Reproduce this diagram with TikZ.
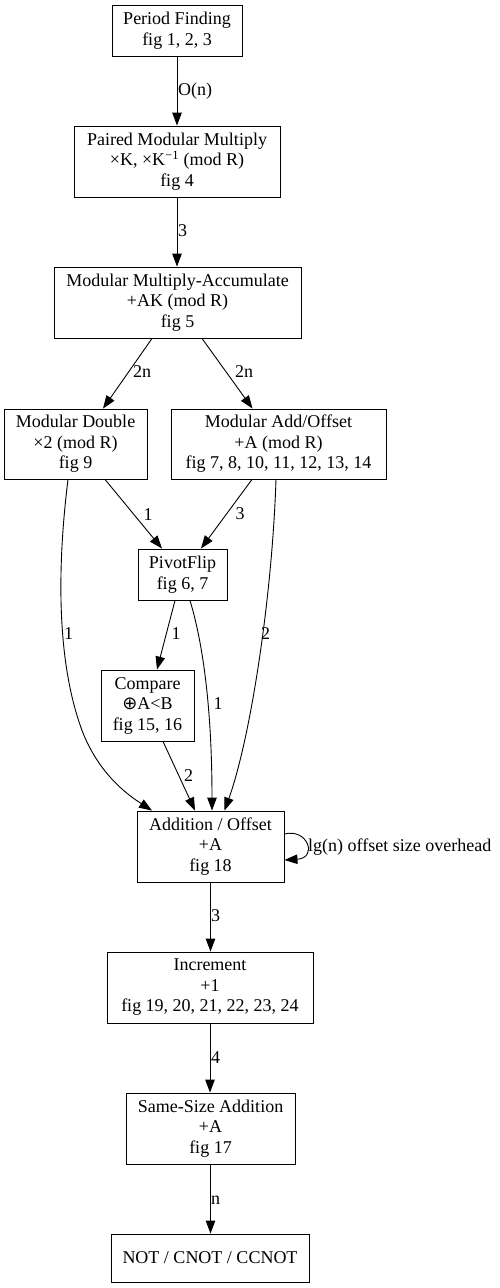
\documentclass[tikz,border=0pt]{standalone}
\usepackage{fontspec}
\setmainfont{Liberation Serif}
\newfontfamily\djv{DejaVu Sans}
\usetikzlibrary{arrows.meta}
\begin{document}
\begin{tikzpicture}[x=1pt,y=-1pt,
  box/.style={draw, line width=0.9pt, inner sep=0pt, align=center, font=\fontsize{18}{20.5}\selectfont},
  arr/.style={line width=0.9pt, -{Triangle[length=13pt,width=9.5pt]}},
  lbl/.style={inner sep=0pt, font=\fontsize{18}{20.5}\selectfont}]
\useasboundingbox (0,0) rectangle (499,1288);

\node[box, minimum width=130pt, minimum height=51pt] (pf) at (177,30.5) {Period Finding\\fig 1, 2, 3};
\node[box, minimum width=206pt, minimum height=71pt] (pmm) at (177,161.5) {Paired Modular Multiply\\×K, ×K\textsuperscript{\char"2212 1} (mod R)\\fig 4};
\node[box, minimum width=247pt, minimum height=71pt] (mma) at (177.5,302.5) {Modular Multiply-Accumulate\\+AK (mod R)\\fig 5};
\node[box, minimum width=143pt, minimum height=70pt] (md) at (75.5,444) {Modular Double\\×2 (mod R)\\fig 9};
\node[box, minimum width=215pt, minimum height=70pt] (mao) at (278.5,444) {Modular Add/Offset\\+A (mod R)\\fig 7, 8, 10, 11, 12, 13, 14};
\node[box, minimum width=89pt, minimum height=51pt] (pv) at (182.5,574.5) {PivotFlip\\fig 6, 7};
\node[box, minimum width=93pt, minimum height=71pt] (cmp) at (147.5,705.5) {Compare\\{\djv ⊕}A<B\\fig 15, 16};
\node[box, minimum width=147pt, minimum height=71pt] (ao) at (210.5,846.5) {Addition / Offset\\+A\\fig 18};
\node[box, minimum width=206pt, minimum height=71pt] (inc) at (210,987.5) {Increment\\+1\\fig 19, 20, 21, 22, 23, 24};
\node[box, minimum width=169pt, minimum height=71pt] (ssa) at (210.5,1128.5) {Same-Size Addition\\+A\\fig 17};
\node[box, minimum width=198pt, minimum height=48pt] (nt) at (210,1258) {NOT / CNOT / CCNOT};

% edges
\draw[arr] (pf.south) -- (pmm.north);
\draw[arr] (pmm.south) -- (pmm.south |- mma.north);
\draw[arr] ([xshift=-25.5pt]mma.south) -- ([xshift=27.5pt]md.north);
\draw[arr] ([xshift=24.5pt]mma.south) -- ([xshift=-26pt]mao.north);
\draw[arr] ([xshift=29.5pt]md.south) -- ([xshift=-20.5pt]pv.north);
\draw[arr] ([xshift=-26.5pt]mao.south) -- ([xshift=18.5pt]pv.north);
\draw[arr] ([xshift=-7.5pt]pv.south) -- ([xshift=9.5pt]cmp.north);
\draw[arr] ([xshift=15.5pt]cmp.south) -- ([xshift=-15.5pt]ao.north);
\draw[arr] ([xshift=-7.5pt]md.south) .. controls (58,560) and (55,660) .. (83,733) .. controls (100,775) and (128,795) .. ([xshift=-58.5pt]ao.north);
\draw[arr] ([xshift=-2.5pt]mao.south) .. controls (272,600) and (250,740) .. ([xshift=14pt]ao.north);
\draw[arr] ([xshift=7.5pt]pv.south) .. controls (205,650) and (212,720) .. ([xshift=1.5pt]ao.north);
\draw[arr] ([yshift=12.5pt]ao.east) .. controls (308,828) and (318,858) .. ([yshift=-13.5pt]ao.east);
\draw[arr] (ao.south) -- (ao.south |- inc.north);
\draw[arr] (inc.south) -- (inc.south |- ssa.north);
\draw[arr] (ssa.south) -- (ssa.south |- nt.north);

% labels
\node[lbl, anchor=west] (l1) at (178,91) {O(n)};
\node[lbl, anchor=west] (l2) at (178,231) {3};
\node[lbl, anchor=west] (l3) at (133,372) {2n};
\node[lbl, anchor=west] (l4) at (235,372) {2n};
\node[lbl] (l5) at (148,515) {1};
\node[lbl] (l6) at (240,514) {3};
\node[lbl] (l7) at (68.5,634) {1};
\node[lbl] (l8) at (176,634) {1};
\node[lbl] (l9) at (265.5,634) {2};
\node[lbl] (l10) at (218,704) {1};
\node[lbl] (l11) at (188.5,776) {2};
\node[lbl, anchor=west] (l12) at (308,847) {lg(n) offset size overhead};
\node[lbl, anchor=west] (l13) at (211,916) {3};
\node[lbl, anchor=west] (l14) at (211,1058) {4};
\node[lbl, anchor=west] (l15) at (211,1200) {n};
\end{tikzpicture}
\end{document}
